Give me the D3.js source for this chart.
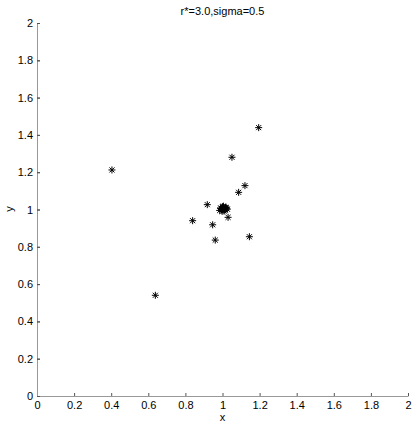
<!DOCTYPE html>
<html><head><meta charset="utf-8">
<script src="https://cdn.jsdelivr.net/npm/d3@7"></script>
<style>body{margin:0;background:#fff}svg{display:block}text{font-family:"Liberation Sans",Arial,sans-serif}</style>
</head><body><div id="c"></div>
<script>
const title = "r*=3.0,sigma=0.5";
const xTicks = [0,0.2,0.4,0.6,0.8,1,1.2,1.4,1.6,1.8,2];
const yTicks = [0,0.2,0.4,0.6,0.8,1,1.2,1.4,1.6,1.8,2];
const xs = [0.404,0.638,0.839,0.918,0.947,0.961,1.030,1.051,1.087,1.121,1.145,1.195,
  0.985,0.992,0.998,1.004,1.010,1.016,1.022,0.990,1.000,1.008,1.014,1.020,0.995,1.005,1.012,1.026];
const ys = [1.212,0.540,0.940,1.026,0.918,0.836,0.958,1.280,1.092,1.128,0.854,1.439,
  0.995,1.005,0.990,1.010,1.000,1.012,1.004,1.008,1.015,0.992,0.998,1.010,1.000,1.018,1.004,1.002];

const W=415,H=426;
const svg=d3.select("#c").append("svg").attr("width",W).attr("height",H);
const x=d3.scaleLinear().domain([0,2]).range([37,408]);
const y=d3.scaleLinear().domain([0,2]).range([396,23]);
const axisColor="#999";

const gx=svg.append("g").attr("transform","translate(0,396)")
  .call(d3.axisBottom(x).tickValues(xTicks).tickSizeInner(-3).tickSizeOuter(0).tickPadding(5).tickFormat(d=>d3.format("")(d)));
const gy=svg.append("g").attr("transform","translate(37,0)")
  .call(d3.axisLeft(y).tickValues(yTicks).tickSizeInner(-3).tickSizeOuter(0).tickPadding(4).tickFormat(d=>d3.format("")(d)));
[gx,gy].forEach(g=>{
  g.select(".domain").attr("stroke",axisColor).attr("stroke-width",1);
  g.selectAll(".tick line").attr("stroke","#555");
  g.selectAll("text").attr("fill","#000").style("font-size","11px");
});
// small tick on other side of axis like reference
gy.selectAll(".tick").append("line").attr("x1",0).attr("x2",3).attr("stroke","#555");

svg.append("text").attr("x",222.5).attr("y",15).attr("text-anchor","middle").style("font-size","11px").text(title);
svg.append("text").attr("x",222.5).attr("y",421).attr("text-anchor","middle").style("font-size","11px").text("x");
svg.append("text").attr("x",10).attr("y",209).attr("text-anchor","middle").attr("dominant-baseline","middle")
  .attr("transform","rotate(-90,10,209)").style("font-size","11px").text("y");

const r=3.5, d=r*0.72;
const pts=svg.append("g").attr("stroke","#000").attr("stroke-width",1);
xs.forEach((v,i)=>{
  const cx=x(v), cy=y(ys[i]);
  const g=pts.append("g").attr("transform",`translate(${cx},${cy})`);
  g.append("path").attr("d",`M${-r},0H${r}M0,${-r}V${r}M${-d},${-d}L${d},${d}M${-d},${d}L${d},${-d}`);
});
</script></body></html>
